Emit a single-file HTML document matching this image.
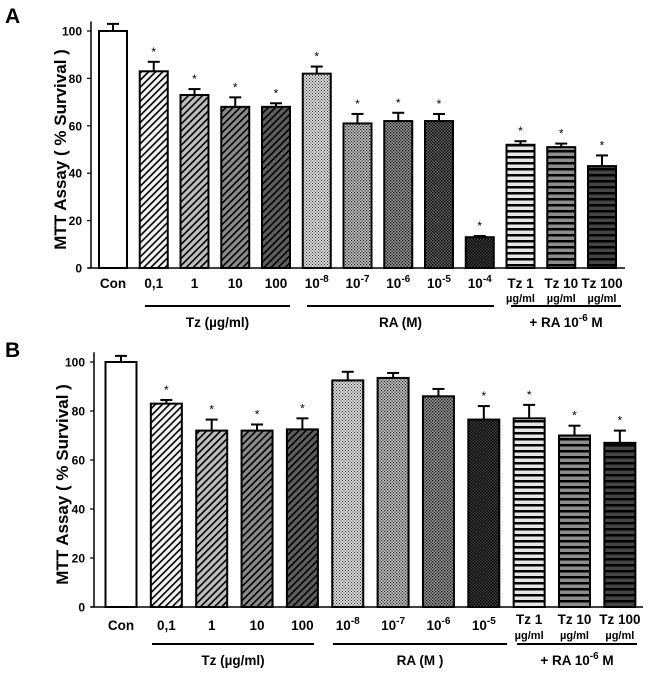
<!DOCTYPE html>
<html><head><meta charset="utf-8"><style>
body{margin:0;background:#fff;}
svg{display:block;font-family:"Liberation Sans",Arial,sans-serif;font-weight:bold;}
</style></head><body>
<svg id="fig" width="650" height="673" viewBox="0 0 650 673">
<defs>
<pattern id="d1" width="5" height="5" patternUnits="userSpaceOnUse" patternTransform="rotate(45)"><rect width="5" height="5" fill="#f2f2f2"/><rect width="1.6" height="5" fill="#000"/></pattern>
<pattern id="d2" width="5" height="5" patternUnits="userSpaceOnUse" patternTransform="rotate(45)"><rect width="5" height="5" fill="#bdbdbd"/><rect width="1.6" height="5" fill="#000"/></pattern>
<pattern id="d3" width="5" height="5" patternUnits="userSpaceOnUse" patternTransform="rotate(45)"><rect width="5" height="5" fill="#8a8a8a"/><rect width="1.6" height="5" fill="#000"/></pattern>
<pattern id="d4" width="5" height="5" patternUnits="userSpaceOnUse" patternTransform="rotate(45)"><rect width="5" height="5" fill="#5e5e5e"/><rect width="1.6" height="5" fill="#000"/></pattern>
<pattern id="c1" width="3" height="3" patternUnits="userSpaceOnUse"><rect width="3" height="3" fill="#d8d8d8"/><rect width="1" height="1" fill="#333"/><rect x="1.5" y="1.5" width="1" height="1" fill="#333"/></pattern>
<pattern id="c2" width="3" height="3" patternUnits="userSpaceOnUse"><rect width="3" height="3" fill="#c4c4c4"/><rect width="1.2" height="1.2" fill="#222"/><rect x="1.5" y="1.5" width="1.2" height="1.2" fill="#222"/></pattern>
<pattern id="c3" width="3" height="3" patternUnits="userSpaceOnUse"><rect width="3" height="3" fill="#9a9a9a"/><rect width="1.3" height="1.3" fill="#111"/><rect x="1.5" y="1.5" width="1.3" height="1.3" fill="#111"/></pattern>
<pattern id="c4" width="3" height="3" patternUnits="userSpaceOnUse"><rect width="3" height="3" fill="#666"/><rect width="1.4" height="1.4" fill="#000"/><rect x="1.5" y="1.5" width="1.4" height="1.4" fill="#000"/></pattern>
<pattern id="c5" width="3" height="3" patternUnits="userSpaceOnUse"><rect width="3" height="3" fill="#444"/><rect width="1.5" height="1.5" fill="#000"/><rect x="1.5" y="1.5" width="1.5" height="1.5" fill="#000"/></pattern>
<pattern id="h1" width="6" height="6" patternUnits="userSpaceOnUse"><rect width="6" height="6" fill="#e6e6e6"/><rect width="6" height="2.5" fill="#000"/></pattern>
<pattern id="h2" width="6" height="6" patternUnits="userSpaceOnUse"><rect width="6" height="6" fill="#8c8c8c"/><rect width="6" height="2.5" fill="#000"/></pattern>
<pattern id="h3" width="6" height="6" patternUnits="userSpaceOnUse"><rect width="6" height="6" fill="#444"/><rect width="6" height="2.5" fill="#000"/></pattern>
</defs>
</svg>
<script>
// Panel A data
const catsA = ["Con","0,1","1","10","100","10^-8","10^-7","10^-6","10^-5","10^-4","Tz 1|µg/ml","Tz 10|µg/ml","Tz 100|µg/ml"];
const valsA = [100,83,73,68,68,82,61,62,62,13,52,51,43];
const errsA = [3,4,2.5,4,1.5,3,4,3.5,3,0.5,1.5,1.5,4.5];
const starA = [0,1,1,1,1,1,1,1,1,1,1,1,1];
const fillsA = ["#fff","url(#d1)","url(#d2)","url(#d3)","url(#d4)","url(#c1)","url(#c2)","url(#c3)","url(#c4)","url(#c5)","url(#h1)","url(#h2)","url(#h3)"];
// Panel B data
const catsB = ["Con","0,1","1","10","100","10^-8","10^-7","10^-6","10^-5","Tz 1|µg/ml","Tz 10|µg/ml","Tz 100|µg/ml"];
const valsB = [100,83,72,72,72.5,92.5,93.5,86,76.5,77,70,67];
const errsB = [2.5,1.5,4.5,2.5,4.5,3.5,2,3,5.5,5.5,4,5];
const starB = [0,1,1,1,1,0,0,0,1,1,1,1];
const fillsB = ["#fff","url(#d1)","url(#d2)","url(#d3)","url(#d4)","url(#c1)","url(#c2)","url(#c3)","url(#c5)","url(#h1)","url(#h2)","url(#h3)"];
const ticks = [0,20,40,60,80,100];

const svg = document.getElementById('fig');
const NS = "http://www.w3.org/2000/svg";
function mk(tag, attrs, parent){const e=document.createElementNS(NS,tag);for(const k in attrs)e.setAttribute(k,attrs[k]);(parent||svg).appendChild(e);return e;}

function panel(p){
  const g = mk('g',{});
  
  
  const y = v => p.y0 - v*(p.y0-p.y100)/100;
  const x = i => p.x0 + i*p.pitch;
  const L = mk('text',{x:p.letterX,y:p.letterY,'font-size':21},g); L.textContent=p.letter;
   
  const ya = mk('line',{x1:p.ax,x2:p.ax,y1:y(104),y2:p.y0,stroke:'#000','stroke-width':1.5},g);
   
  const xa = mk('line',{x1:p.ax-3,x2:p.axEnd,y1:p.y0,y2:p.y0,stroke:'#000','stroke-width':1.5},g);
   
  ticks.forEach(t=>{
    const tl = mk('line',{x1:p.ax-4,x2:p.ax,y1:y(t),y2:y(t),stroke:'#000','stroke-width':1.2},g);
     
    const tt = mk('text',{x:p.ax-9,y:y(t)+4.5,'font-size':12,'text-anchor':'end'},g); tt.textContent=t;
     
  });
  const yt = mk('text',{x:0,y:0,'font-size':17,'text-anchor':'middle',transform:`translate(${p.ytX},${y(50)}) rotate(-90)`},g);
  yt.textContent='MTT Assay ( % Survival )';
   
  p.vals.forEach((v,i)=>{
    const cx=x(i), top=y(v), et=y(v+p.errs[i]);
    const el = mk('line',{x1:cx,x2:cx,y1:top,y2:et,stroke:'#000','stroke-width':2},g);
     
    const ec = mk('line',{x1:cx-6,x2:cx+6,y1:et,y2:et,stroke:'#000','stroke-width':2},g);
     
    const r = mk('rect',{x:cx-p.bw/2,y:top,width:p.bw,height:p.y0-top,fill:p.fills[i],stroke:'#000','stroke-width':2},g);
     
    if(p.star[i]){
      const s = mk('text',{x:cx,y:et-6,'font-size':12,'font-weight':'normal','text-anchor':'middle'},g); s.textContent='*';
       
    }
    const c=p.cats[i];
    const lab = mk('text',{x:cx,y:p.labY,'font-size':p.labSize,'text-anchor':'middle'},g);
     
    if(c.includes('|')){
      const [a,b]=c.split('|');
      lab.textContent=a;
      const l2 = mk('text',{x:cx,y:p.labY+14,'font-size':11,'text-anchor':'middle'},g); l2.textContent=b;
       
      if(p.twoLine){lab.setAttribute('y',p.labY-6);l2.setAttribute('y',p.labY+9);}
    } else if(c.startsWith('10^')){
      const t1 = mk('tspan',{},lab); t1.textContent='10';
      const t2 = mk('tspan',{dy:-6,'font-size':10},lab); t2.textContent=c.slice(3);
    } else lab.textContent=c;
  });
  p.groups.forEach(gr=>{
    const gl = mk('line',{x1:gr[0],x2:gr[1],y1:p.gY,y2:p.gY,stroke:'#000','stroke-width':2},g);
     
    const gt = mk('text',{x:(gr[0]+gr[1])/2,y:p.gY+21,'font-size':13.5,'text-anchor':'middle'},g);
     
    if(gr[2].includes('^')){
      const [a,b]=gr[2].split('^'); const [e,rest]=b.split(' ');
      const t1=mk('tspan',{},gt); t1.textContent=a;
      const t2=mk('tspan',{dy:-6,'font-size':10},gt); t2.textContent=e;
      const t3=mk('tspan',{dy:6},gt); t3.textContent=' '+rest;
    } else gt.textContent=gr[2];
  });
}
panel({name:'panel-a',letter:'A',letterX:5,letterY:23,ax:91,axEnd:625,y0:268,y100:31,x0:113,pitch:40.75,bw:28,
  vals:valsA,errs:errsA,star:starA,fills:fillsA,cats:catsA,labY:288,labSize:13.5,twoLine:false,ytX:66,gY:306,
  groups:[[145,290,'Tz (µg/ml)'],[307,494,'RA (M)'],[511,621,'+ RA 10^-6 M']]});
panel({name:'panel-b',letter:'B',letterX:5,letterY:357,ax:94,axEnd:643,y0:607,y100:362,x0:121,pitch:45.35,bw:31,
  vals:valsB,errs:errsB,star:starB,fills:fillsB,cats:catsB,labY:630,labSize:13.5,twoLine:true,ytX:68,gY:644,
  groups:[[152,314,'Tz (µg/ml)'],[333,507,'RA (M )'],[517,637,'+ RA 10^-6 M']]});
</script>
</body></html>
